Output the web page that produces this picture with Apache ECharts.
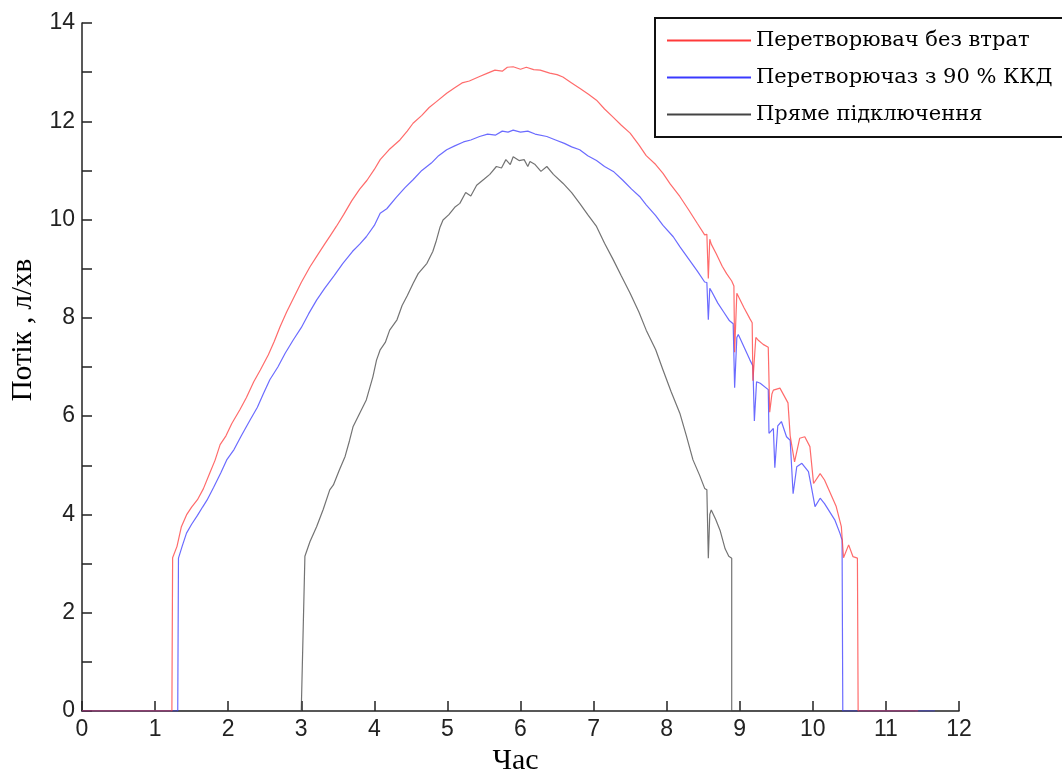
<!DOCTYPE html>
<html>
<head>
<meta charset="utf-8">
<title>Потік</title>
<script src="https://cdn.jsdelivr.net/npm/echarts@6/dist/echarts.min.js"></script>
<style>
    html, body { margin: 0; padding: 0; background: #fff; }
    #chart { width: 1062px; height: 771px; }
</style>
</head>
<body>
<div id="chart"></div>
<script>
// назви рядів (легенда)
var seriesNames = ['Перетворювач без втрат', 'Перетворючаз з 90 % ККД', 'Пряме підключення'];

// перетворювач без втрат, [час, потік]
var redData = [
    [0, 0], [1.23, 0], [1.24, 3.12], [1.30, 3.35], [1.36, 3.75], [1.43, 3.99], [1.50, 4.15], [1.58, 4.30],
    [1.66, 4.52], [1.75, 4.85], [1.82, 5.10], [1.89, 5.42], [1.97, 5.60], [2.05, 5.85], [2.16, 6.13],
    [2.25, 6.38], [2.35, 6.70], [2.44, 6.94], [2.55, 7.25], [2.63, 7.52], [2.71, 7.82], [2.80, 8.12],
    [2.90, 8.42], [3.00, 8.72], [3.12, 9.04], [3.22, 9.27], [3.32, 9.50], [3.40, 9.68], [3.48, 9.86],
    [3.58, 10.10], [3.69, 10.38], [3.80, 10.62], [3.90, 10.80], [4.00, 11.02], [4.08, 11.22], [4.20, 11.42],
    [4.35, 11.62], [4.45, 11.80], [4.53, 11.96], [4.65, 12.12], [4.75, 12.28], [4.85, 12.40], [4.99, 12.57],
    [5.10, 12.68], [5.20, 12.78], [5.30, 12.82], [5.44, 12.91], [5.55, 12.98], [5.65, 13.04], [5.75, 13.02],
    [5.82, 13.10], [5.90, 13.11], [6.00, 13.06], [6.08, 13.10], [6.18, 13.05], [6.27, 13.04], [6.40, 12.98],
    [6.50, 12.95], [6.58, 12.90], [6.70, 12.78], [6.82, 12.66], [6.93, 12.55], [7.04, 12.43], [7.15, 12.25],
    [7.27, 12.08], [7.38, 11.92], [7.50, 11.76], [7.62, 11.52], [7.72, 11.30], [7.85, 11.12], [7.95, 10.94],
    [8.05, 10.72], [8.18, 10.47], [8.30, 10.20], [8.42, 9.92], [8.52, 9.69], [8.55, 9.70], [8.57, 8.80],
    [8.59, 9.60], [8.61, 9.50], [8.68, 9.30], [8.76, 9.05], [8.82, 8.90], [8.89, 8.75], [8.92, 8.65],
    [8.93, 7.30], [8.96, 8.50], [8.98, 8.52], [9.06, 8.20], [9.14, 7.98], [9.17, 7.90], [9.18, 6.72],
    [9.22, 7.60], [9.25, 7.55], [9.32, 7.46], [9.39, 7.40], [9.41, 6.08], [9.44, 6.45], [9.46, 6.53],
    [9.55, 6.57], [9.66, 6.27], [9.69, 5.60], [9.75, 5.07], [9.82, 5.55], [9.89, 5.58], [9.96, 5.38],
    [10.01, 4.63], [10.10, 4.83], [10.16, 4.70], [10.32, 4.16], [10.39, 3.75], [10.42, 3.12], [10.49, 3.38],
    [10.55, 3.14], [10.61, 3.11], [10.62, 0], [11.44, 0]
];

// перетворювач з 90 % ККД
var blueData = [
    [0, 0], [1.31, 0], [1.32, 3.11], [1.37, 3.35], [1.43, 3.62], [1.50, 3.80], [1.58, 3.98], [1.65, 4.15],
    [1.71, 4.29], [1.80, 4.55], [1.90, 4.85], [1.98, 5.11], [2.08, 5.32], [2.18, 5.60], [2.30, 5.92],
    [2.40, 6.18], [2.48, 6.45], [2.57, 6.74], [2.68, 7.00], [2.78, 7.28], [2.89, 7.55], [3.00, 7.80],
    [3.10, 8.08], [3.21, 8.36], [3.32, 8.60], [3.45, 8.86], [3.57, 9.11], [3.70, 9.35], [3.80, 9.50],
    [3.89, 9.65], [4.00, 9.88], [4.08, 10.13], [4.17, 10.22], [4.30, 10.45], [4.42, 10.65], [4.53, 10.81],
    [4.65, 11.00], [4.78, 11.15], [4.88, 11.30], [4.99, 11.42], [5.10, 11.50], [5.22, 11.58], [5.32, 11.62],
    [5.44, 11.69], [5.55, 11.74], [5.66, 11.72], [5.75, 11.80], [5.83, 11.78], [5.90, 11.82], [6.00, 11.78],
    [6.10, 11.80], [6.20, 11.74], [6.36, 11.69], [6.48, 11.62], [6.60, 11.55], [6.70, 11.48], [6.81, 11.42],
    [6.92, 11.30], [7.04, 11.20], [7.15, 11.08], [7.27, 10.98], [7.40, 10.80], [7.52, 10.62], [7.63, 10.47],
    [7.72, 10.30], [7.85, 10.08], [7.95, 9.88], [8.09, 9.65], [8.18, 9.45], [8.30, 9.20], [8.42, 8.95],
    [8.52, 8.73], [8.55, 8.72], [8.57, 7.96], [8.59, 8.60], [8.61, 8.55], [8.70, 8.30], [8.78, 8.12],
    [8.86, 7.94], [8.91, 7.88], [8.93, 6.58], [8.96, 7.60], [8.98, 7.66], [9.06, 7.40], [9.14, 7.14],
    [9.18, 7.02], [9.20, 5.90], [9.23, 6.70], [9.28, 6.67], [9.39, 6.54], [9.40, 5.65], [9.46, 5.75],
    [9.48, 4.95], [9.52, 5.80], [9.57, 5.89], [9.64, 5.58], [9.69, 5.51], [9.73, 4.42], [9.78, 4.97],
    [9.85, 5.04], [9.94, 4.87], [9.98, 4.56], [10.03, 4.16], [10.10, 4.33], [10.16, 4.22], [10.30, 3.89],
    [10.37, 3.62], [10.40, 3.48], [10.41, 0], [11.67, 0]
];

// пряме підключення
var blackData = [
    [0, 0], [3.00, 0], [3.05, 3.15], [3.12, 3.45], [3.21, 3.75], [3.30, 4.10], [3.39, 4.50], [3.44, 4.60],
    [3.52, 4.90], [3.60, 5.18], [3.66, 5.50], [3.71, 5.79], [3.80, 6.06], [3.89, 6.33], [3.98, 6.80],
    [4.03, 7.14], [4.08, 7.35], [4.15, 7.50], [4.21, 7.75], [4.31, 7.96], [4.38, 8.25], [4.45, 8.45],
    [4.53, 8.70], [4.60, 8.90], [4.72, 9.11], [4.80, 9.35], [4.85, 9.58], [4.90, 9.85], [4.94, 9.99],
    [5.02, 10.10], [5.10, 10.25], [5.17, 10.33], [5.25, 10.55], [5.32, 10.48], [5.40, 10.70], [5.50, 10.82],
    [5.58, 10.92], [5.67, 11.08], [5.74, 11.05], [5.80, 11.22], [5.86, 11.12], [5.90, 11.28], [5.98, 11.20],
    [6.05, 11.22], [6.10, 11.08], [6.13, 11.18], [6.20, 11.12], [6.28, 10.98], [6.36, 11.08], [6.45, 10.92],
    [6.58, 10.74], [6.70, 10.55], [6.81, 10.33], [6.92, 10.10], [7.04, 9.86], [7.15, 9.52], [7.27, 9.18],
    [7.38, 8.85], [7.50, 8.50], [7.62, 8.12], [7.72, 7.75], [7.85, 7.35], [7.95, 6.94], [8.06, 6.50],
    [8.18, 6.06], [8.27, 5.60], [8.36, 5.11], [8.45, 4.80], [8.52, 4.53], [8.55, 4.50], [8.57, 3.11],
    [8.59, 4.00], [8.61, 4.09], [8.67, 3.90], [8.73, 3.68], [8.80, 3.30], [8.85, 3.15], [8.89, 3.11],
    [8.89, 0], [11.40, 0]
];

var lineColors = ['#ff3a3a', '#3a3aff', '#444444'];

var myChart = echarts.init(document.getElementById('chart'));
var option = {
    backgroundColor: '#fff',
    animation: false,
    grid: {
        left: 82,
        right: 103,
        top: 23,
        bottom: 60,
        outerBoundsMode: 'none'
    },
    legend: {
        orient: 'vertical',
        left: 655,
        top: 18,
        padding: [10, 60, 10, 12],
        itemGap: 12,
        itemWidth: 84,
        itemHeight: 2,
        icon: 'rect',
        borderColor: '#111',
        borderWidth: 2,
        backgroundColor: '#fff',
        data: seriesNames,
        textStyle: {
            fontFamily: 'DejaVu Serif',
            fontSize: 21,
            lineHeight: 25,
            color: '#000'
        }
    },
    xAxis: {
        type: 'value',
        min: 0,
        max: 12,
        interval: 1,
        name: 'Час',
        nameLocation: 'middle',
        nameGap: 30,
        nameTextStyle: { fontFamily: 'Liberation Serif', fontSize: 30, color: '#000', padding: [0, 10, 0, 0] },
        axisLine: { lineStyle: { color: '#222', width: 1.5 } },
        axisTick: { inside: true, length: 10, lineStyle: { color: '#222', width: 1.5 } },
        axisLabel: { fontFamily: 'Liberation Sans', fontSize: 23, color: '#222', margin: 7 },
        splitLine: { show: false }
    },
    yAxis: {
        type: 'value',
        min: 0,
        max: 14,
        interval: 1,
        name: 'Потік , л/хв',
        nameLocation: 'middle',
        nameGap: 44,
        nameTextStyle: { fontFamily: 'Liberation Serif', fontSize: 29, color: '#000', padding: [0, 0, 0, 74] },
        axisLine: { show: true, lineStyle: { color: '#222', width: 1.5 } },
        axisTick: { inside: true, length: 10, lineStyle: { color: '#222', width: 1.5 } },
        axisLabel: {
            fontFamily: 'Liberation Sans',
            fontSize: 23,
            color: '#222',
            margin: 7,
            formatter: function(v) {
                return v % 2 === 0 ? String(v) : '';
            }
        },
        splitLine: { show: false }
    },
    series: [redData, blueData, blackData].map(function(d, i) {
        return {
            name: seriesNames[i],
            type: 'line',
            data: d,
            symbol: 'none',
            color: lineColors[i],
            z: 3 - i,
            lineStyle: { width: 1.2, opacity: 0.75, color: lineColors[i] }
        };
    })
};
myChart.setOption(option);
</script>
</body>
</html>
